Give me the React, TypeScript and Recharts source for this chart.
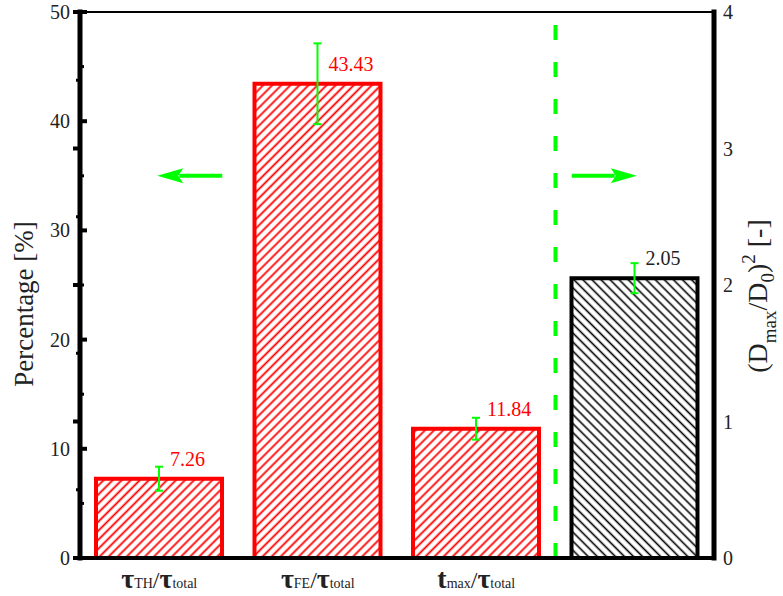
import React from 'react';
import {
  ComposedChart,
  Bar,
  XAxis,
  YAxis,
  ErrorBar,
  LabelList,
  ReferenceLine,
} from 'recharts';

// Categories along the x axis
const categories = ['tauTH', 'tauFE', 'tmax', 'diameter'];
// Numerator symbol and its subscript for each x tick label (last bar has none)
const tickMain = ['τ', 'τ', 't', ''];
const tickSub = ['TH', 'FE', 'max', ''];
const tickDenominator = 'τ';
const tickDenominatorSub = 'total';

// Percentage series (left axis)
const percentValues = [7.26, 43.43, 11.84, null];
const percentErrors = [1.1, 3.7, 1.0, null];

// Squared diameter ratio (right axis)
const ratioValues = [null, null, null, 2.05];
const ratioErrors = [null, null, null, 0.11];

// Axis ticks
const leftTicks = [0, 5, 10, 15, 20, 25, 30, 35, 40, 45, 50];
const rightTicks = [0, 0.5, 1, 1.5, 2, 2.5, 3, 3.5, 4];

// Height (left-axis units) of the two direction arrows
const arrowLevel = 35;

const rows = categories.map((cat, i) => ({
  cat,
  pct: percentValues[i],
  pctErr: percentErrors[i],
  ratio: ratioValues[i],
  ratioErr: ratioErrors[i],
}));

const FONT = '"Liberation Serif", "Times New Roman", serif';
const GREEN = '#00ff00';
const RED = '#ff0000';
const BAR_SIZE = 126;

const LeftTickLabel = (props: any) => {
  const { x, y, payload } = props;
  if (payload.value % 10 !== 0) return <g />;
  return (
    <text x={x - 10} y={y} dy="0.35em" textAnchor="end" fontFamily={FONT} fontSize={20} fill="#222">
      {payload.value}
    </text>
  );
};

const RightTickLabel = (props: any) => {
  const { x, y, payload } = props;
  if (!Number.isInteger(payload.value)) return <g />;
  return (
    <text x={x + 9} y={y} dy="0.35em" textAnchor="start" fontFamily={FONT} fontSize={20} fill="#222">
      {payload.value}
    </text>
  );
};

// Inward tick mark drawn at the left (side=-1) or right (side=1) end of a horizontal reference line
const TickMark = (props: any) => {
  const { x1, x2, y1, side, major } = props;
  if (y1 == null) return <g />;
  const len = major ? 7 : 4;
  const from = side < 0 ? x1 : x2;
  const to = side < 0 ? x1 + len : x2 - len;
  return <line x1={from} x2={to} y1={y1} y2={y1} stroke="#000" strokeWidth={major ? 4 : 3} />;
};

// Solid frame edge drawn as a filled rectangle centred on the reference line
const FrameEdge = (props: any) => {
  const { x1, x2, y1, y2, thickness } = props;
  if (x1 == null || y1 == null) return <g />;
  const h = thickness / 2;
  const left = Math.min(x1, x2) - h;
  const top = Math.min(y1, y2) - h;
  const w = Math.abs(x2 - x1) + thickness;
  const ht = Math.abs(y2 - y1) + thickness;
  return <rect x={left} y={top} width={w} height={ht} fill="#000" stroke="none" />;
};

const CategoryTick = (props: any) => {
  const { x, y, index } = props;
  if (!tickMain[index]) return <g />;
  return (
    <text x={x} y={y + 30} textAnchor="middle" fontFamily={FONT} fill="#222">
      <tspan fontSize={28} fontWeight="bold">{tickMain[index]}</tspan>
      <tspan fontSize={14}>{tickSub[index]}</tspan>
      <tspan fontSize={24}>/</tspan>
      <tspan fontSize={28} fontWeight="bold">{tickDenominator}</tspan>
      <tspan fontSize={14}>{tickDenominatorSub}</tspan>
    </text>
  );
};

const valueLabel = (color: string) => (props: any) => {
  const { x, y, width, value } = props;
  if (value == null) return null;
  return (
    <text x={x + width / 2 + 11} y={y - 13} textAnchor="start" fontFamily={FONT} fontSize={20} fill={color}>
      {Number(value).toFixed(2)}
    </text>
  );
};

// Horizontal arrow anchored at a category centre; dir = -1 points left, +1 points right
const Arrow = (props: any) => {
  const { x1, y1, dir } = props;
  if (x1 == null || y1 == null) return <g />;
  const tip = x1 + dir * 2;
  const tail = x1 - dir * 63;
  const head = 24;
  const half = 7.5;
  const bx = tip - dir * head;
  return (
    <g>
      <line x1={tail} y1={y1} x2={bx + dir * 2} y2={y1} stroke={GREEN} strokeWidth={4} />
      <polygon
        points={`${tip},${y1} ${bx - dir * 2},${y1 - half} ${bx + dir * 3},${y1} ${bx - dir * 2},${y1 + half}`}
        fill={GREEN}
      />
    </g>
  );
};

const LeftTitle = (props: any) => {
  const { viewBox } = props;
  const cx = viewBox.x + 33;
  const cy = viewBox.y + viewBox.height / 2 + 19;
  return (
    <text
      x={cx}
      y={cy}
      transform={`rotate(-90, ${cx}, ${cy})`}
      textAnchor="middle"
      fontFamily={FONT}
      fontSize={27}
      fill="#222"
    >
      Percentage [%]
    </text>
  );
};

const RightTitle = (props: any) => {
  const { viewBox } = props;
  const cx = viewBox.x + 53;
  const cy = viewBox.y + viewBox.height / 2 + 11;
  return (
    <text
      x={cx}
      y={cy}
      transform={`rotate(-90, ${cx}, ${cy})`}
      textAnchor="middle"
      fontFamily={FONT}
      fontSize={28}
      fill="#222"
    >
      <tspan>(D</tspan>
      <tspan fontSize={19} dy={9}>max</tspan>
      <tspan dy={-9}>/D</tspan>
      <tspan fontSize={19} dy={7}>0</tspan>
      <tspan dy={-7}>)</tspan>
      <tspan fontSize={19} dy={-12}>2</tspan>
      <tspan dy={12}> [-]</tspan>
    </text>
  );
};

export default function App() {
  const firstCat = categories[0];
  const lastCat = categories[categories.length - 1];
  return (
    <div style={{ position: 'absolute', left: 0, top: 0 }}>
      <ComposedChart
        width={783}
        height={596}
        data={rows}
        margin={{ top: 12, right: 0, bottom: 0, left: 0 }}
        barSize={BAR_SIZE}
        barGap={-BAR_SIZE}
      >
        <defs>
          <pattern id="hatchRed" patternUnits="userSpaceOnUse" width={6.4} height={6.4} patternTransform="rotate(45)">
            <rect width={6.4} height={6.4} fill="#fff" />
            <line x1={3.2} y1={0} x2={3.2} y2={6.4} stroke={RED} strokeWidth={1.8} />
          </pattern>
          <pattern id="hatchBlack" patternUnits="userSpaceOnUse" width={6.4} height={6.4} patternTransform="rotate(-45)">
            <rect width={6.4} height={6.4} fill="#fff" />
            <line x1={3.2} y1={0} x2={3.2} y2={6.4} stroke="#000" strokeWidth={1.6} />
          </pattern>
        </defs>

        <XAxis
          dataKey="cat"
          height={38}
          interval={0}
          tickSize={0}
          tickMargin={0}
          tickLine={false}
          axisLine={false}
          tick={<CategoryTick />}
        />

        <YAxis
          yAxisId="left"
          orientation="left"
          width={80}
          domain={[0, 50]}
          ticks={leftTicks}
          interval={0}
          tickSize={0}
          tickMargin={0}
          tickLine={false}
          axisLine={false}
          tick={<LeftTickLabel />}
          label={{ content: <LeftTitle /> }}
        />
        <YAxis
          yAxisId="right"
          orientation="right"
          width={69}
          domain={[0, 4]}
          ticks={rightTicks}
          interval={0}
          tickSize={0}
          tickMargin={0}
          tickLine={false}
          axisLine={false}
          tick={<RightTickLabel />}
          label={{ content: <RightTitle /> }}
        />

        {/* separator between the two measures */}
        <ReferenceLine
          yAxisId="left"
          x={lastCat}
          position="start"
          stroke={GREEN}
          strokeWidth={4}
          strokeDasharray="15 22"
        />

        {/* arrows pointing at the relevant axis */}
        <ReferenceLine
          yAxisId="left"
          segment={[{ x: firstCat, y: arrowLevel }, { x: firstCat, y: arrowLevel }]}
          shape={<Arrow dir={-1} />}
        />
        <ReferenceLine
          yAxisId="left"
          segment={[{ x: lastCat, y: arrowLevel }, { x: lastCat, y: arrowLevel }]}
          shape={<Arrow dir={1} />}
        />

        <Bar
          dataKey="pct"
          yAxisId="left"
          fill="url(#hatchRed)"
          stroke={RED}
          strokeWidth={4}
          isAnimationActive={false}
        >
          <ErrorBar dataKey="pctErr" width={4} stroke={GREEN} strokeWidth={2} isAnimationActive={false} />
          <LabelList dataKey="pct" content={valueLabel(RED)} />
        </Bar>
        <Bar
          dataKey="ratio"
          yAxisId="right"
          fill="url(#hatchBlack)"
          stroke="#000"
          strokeWidth={4}
          isAnimationActive={false}
        >
          <ErrorBar dataKey="ratioErr" width={4} stroke={GREEN} strokeWidth={2} isAnimationActive={false} />
          <LabelList dataKey="ratio" content={valueLabel('#222')} />
        </Bar>

        {/* plot frame */}
        <ReferenceLine yAxisId="left" y={50} shape={<FrameEdge thickness={2} />} />
        <ReferenceLine yAxisId="left" y={0} shape={<FrameEdge thickness={4} />} />
        <ReferenceLine yAxisId="left" x={firstCat} position="start" shape={<FrameEdge thickness={5} />} />
        <ReferenceLine yAxisId="left" x={lastCat} position="end" shape={<FrameEdge thickness={5} />} />

        {/* inward tick marks on both value axes */}
        {leftTicks.map((v) => (
          <ReferenceLine
            key={`lt${v}`}
            yAxisId="left"
            y={v}
            shape={<TickMark side={-1} major={v % 10 === 0} />}
          />
        ))}
        {rightTicks.map((v) => (
          <ReferenceLine
            key={`rt${v}`}
            yAxisId="right"
            y={v}
            shape={<TickMark side={1} major={Number.isInteger(v)} />}
          />
        ))}
      </ComposedChart>
    </div>
  );
}
